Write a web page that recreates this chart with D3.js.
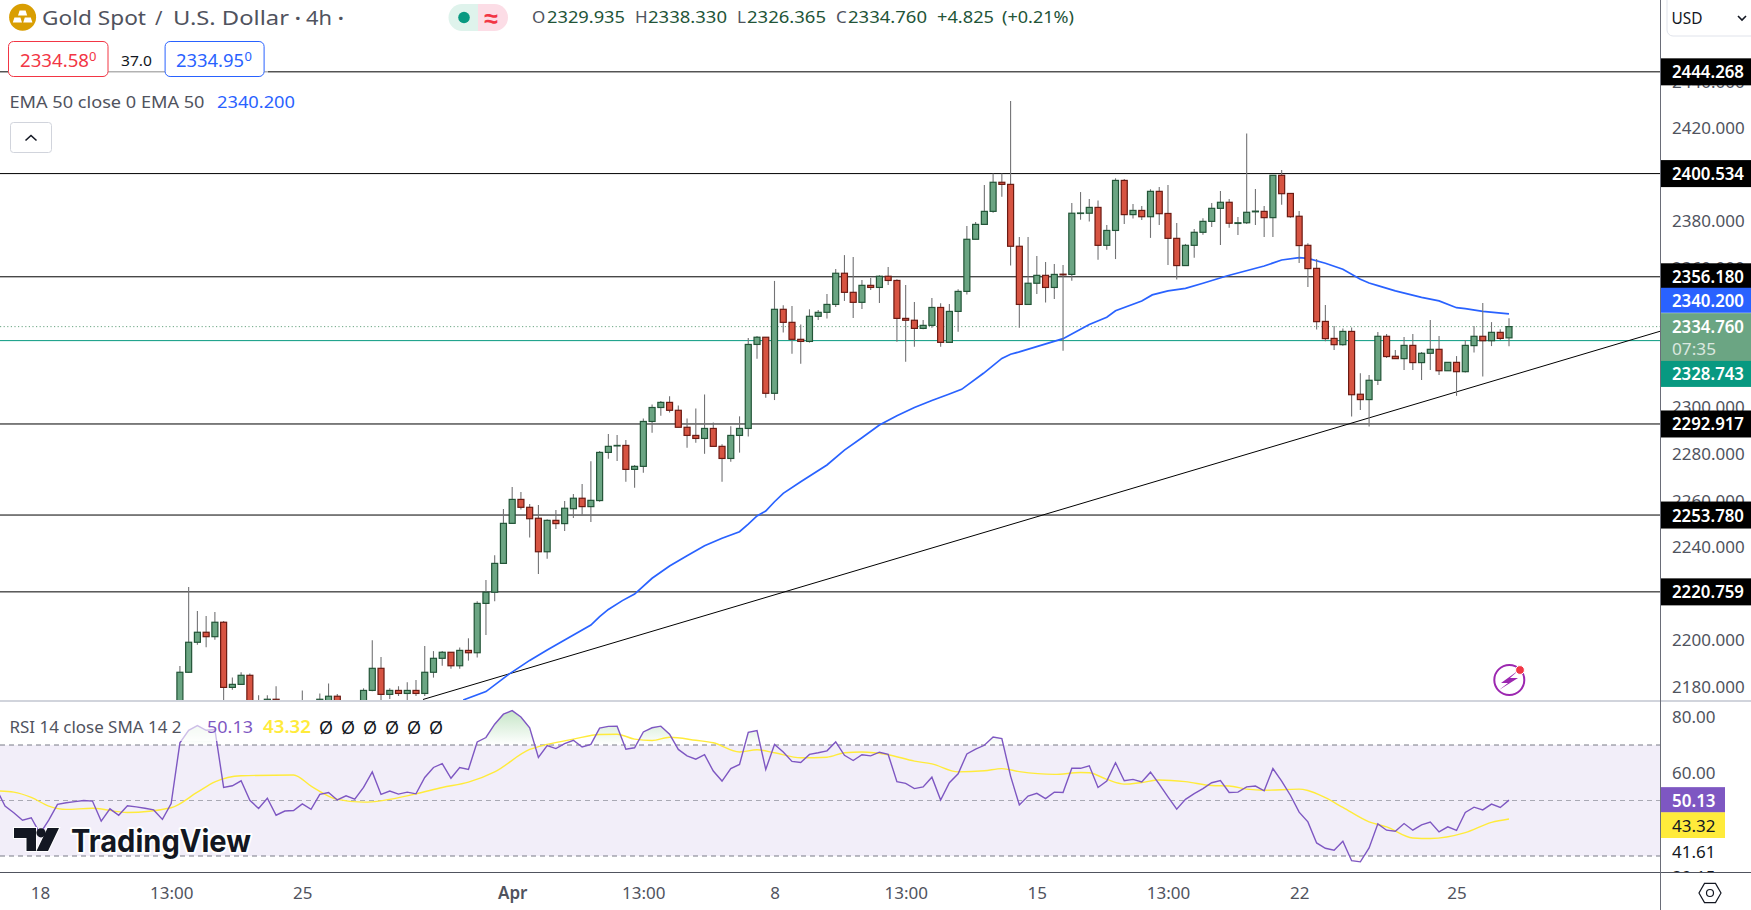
<!DOCTYPE html>
<html>
<head>
<meta charset="utf-8">
<script src="https://cdn.jsdelivr.net/npm/d3@7"></script>
<style>
  html, body { margin: 0; padding: 0; background: #fff; overflow: hidden; }
  text { font-family: "Noto Sans", sans-serif; }
</style>
</head>
<body>
<div id="chart-container"></div>
<script>
// candles, first one is bar 16 (18 March is bar 0), earlier ones sit below the pane
const firstBar = 16;
const opens = [2170,2186.2,2199.1,2203.4,2201.5,2207.7,2179.7,2181,2184.9,2170,2172,2174.6,2172,2170,2171,2170,2172,2172,2175.9,2170,2168,2170,
  2178.4,2187.9,2176.7,2178.4,2177.1,2178.4,2177.1,2186.2,2192.2,2194.8,2189,2195.6,2194.6,2215.8,2220.6,2233,2250.2,2260.5,2257.1,2252.4,2238,2251.5,2250.1,2256.5,2261,2257.4,
  2260,2280.7,2283.5,2283.7,2273.4,2274.7,2294,2300,2302.2,2298.8,2291.5,2288,2286.7,2291,2283.3,2278.1,2288,2291,2327.1,2330.2,2306.1,2342.2,2336.6,2329.3,2328.4,2339.2,2340.9,2344.3,
  2357.7,2349.5,2345.2,2352.5,2351.6,2356.4,2354.6,2338.3,2337.5,2334,2335.3,2343,2328,2341.3,2349.9,2372.3,2378.7,2384.3,2396.8,2395.9,2369.3,2344.3,2353.4,2356.8,2351.6,2357.3,2357.2,2383.4,2383.5,2386,2369.7,2376.1,
  2397.6,2382.9,2384.7,2382,2392.9,2383.4,2372.7,2361,2369.7,2375.3,2380,2385.6,2388.2,2379.1,2379.4,2384.1,2384.3,2381.6,2399.8,2392,2382.2,2369.7,2359.8,2337,2329.7,2327,2332.7,2305.7,2303.4,2311.7,
  2330.6,2322,2321,2326.7,2319.3,2323.3,2325,2315.8,2319.4,2315.4,2326.6,2330.6,2328.7,2332.3,2329.935];
const highs = [2188.9,2222.9,2212.5,2210.4,2212.1,2208.2,2184,2186.2,2185.7,2176.3,2176.3,2180.2,2173,2172,2178.4,2173,2177.1,2181.4,2176.9,2173,2172,2179.3,
  2200,2192.8,2179.3,2180.2,2181.9,2182.9,2197.5,2195.3,2195.3,2194.8,2196.9,2200.8,2216.7,2225.9,2236.5,2256.4,2265.8,2263.7,2258.5,2258.1,2252,2255.9,2259.8,2262.8,2267.1,2276.9,
  2281.3,2288.6,2288.2,2286,2275.3,2295.3,2301.3,2302.8,2304.8,2300.9,2295.3,2299.6,2305.6,2293.6,2284.2,2291.9,2296.2,2329.9,2330.7,2330.2,2354.4,2343.9,2343.6,2335.7,2342.2,2341.9,2348.8,2359.5,
  2365.5,2364.7,2354.8,2355.7,2356.8,2360.4,2355.1,2352.6,2345.3,2337.6,2347.1,2344.8,2344.5,2350.8,2378,2379.7,2395.6,2400.6,2400.6,2431.7,2373.3,2373.3,2365.1,2362.5,2361.7,2361.2,2387.9,2392.6,2389.6,2389,2378.4,2398.5,
  2398.2,2387.5,2386.6,2393.8,2394.8,2395.6,2379.3,2370.3,2376.7,2381.3,2387.9,2393,2389.6,2381.9,2417.8,2393.9,2386.6,2399.8,2402.1,2392,2384.5,2370.6,2363.8,2344.1,2335,2334,2334.4,2314.7,2314,2332.4,
  2331.6,2324.7,2330.3,2331.6,2323.9,2337.6,2330.7,2319.4,2322.1,2329,2335,2344.9,2336.7,2333.6,2338.33];
const lows = [2165,2186,2198,2197,2200.2,2172,2178.7,2180.7,2168,2165,2168,2169,2167,2166,2168,2166,2169,2168,2167,2166,2165,2168,
  2178,2172,2174.7,2176,2174,2176,2176,2183.9,2189,2187.7,2187.7,2191.2,2192.5,2202.2,2216.7,2233,2250,2256.2,2244.1,2228.4,2235,2247.8,2246.9,2252.5,2253.4,2250.8,
  2259.5,2278,2277,2268.1,2265.5,2272,2289.2,2296.5,2297.8,2291.5,2282.7,2284.9,2280.1,2283.3,2268.1,2276.7,2280.6,2287.5,2321,2304.2,2303.2,2332.2,2323.1,2318.8,2327.9,2337.6,2338.2,2343.2,
  2345.8,2338.5,2342.3,2350.5,2344.9,2352.6,2328.3,2319.7,2326.1,2333.6,2334.3,2326.1,2328,2332.6,2348.6,2372.3,2378.7,2383.7,2390.6,2361,2334.3,2344.3,2348.8,2345.1,2346.6,2324.4,2354.5,2380.7,2379.9,2363.5,2367.8,2363.8,
  2378.9,2381.2,2380.6,2372.9,2378.4,2361.2,2355,2361,2364.4,2374.2,2377.6,2369.8,2377.3,2374.1,2378.9,2378.4,2373.3,2373.3,2387.1,2381.6,2362.1,2351.8,2333.5,2328.5,2324.7,2326.5,2296.1,2298.9,2291.8,2309.7,
  2321.3,2321,2316.1,2316.1,2311.8,2316.1,2314,2315.8,2305,2315,2323.6,2313.3,2326.4,2329,2326.365];
const closes = [2186.2,2199.1,2203.4,2201.5,2207.7,2179.7,2181,2184.9,2172,2168,2174.6,2172,2170,2171,2170,2172,2174.6,2175.9,2170,2168,2170,2178.4,
  2187.9,2176.7,2178.4,2177.1,2178.4,2177.1,2186.2,2192.2,2194.8,2189,2195.6,2194.6,2215.8,2220.6,2233,2250.2,2260.5,2257.1,2252.2,2238,2251.5,2250.1,2256.7,2261,2257.4,2260.1,
  2280.7,2283.3,2283.7,2273.4,2274.7,2294,2300,2302.2,2298.8,2291.5,2288,2286.7,2291,2283.3,2278.1,2288,2291,2327.1,2330.2,2306.1,2342.2,2336.6,2329.3,2328.4,2339.2,2340.9,2344.3,2357.7,
  2349.5,2345.2,2352.5,2351.6,2356.4,2354.6,2338.3,2337.5,2334,2335.3,2343,2328,2341.3,2349.9,2372.3,2378.7,2384.3,2396.8,2395.9,2369.3,2344.3,2353.4,2356.8,2351.6,2357.2,2357,2383.5,2383.6,2386,2369.7,2376.1,2397.6,
  2382.9,2384.7,2382,2392.9,2383.3,2372.7,2361,2369.7,2375.3,2380,2385.6,2388.2,2379.2,2379.4,2383.9,2384.4,2381.6,2399.8,2391.9,2382,2369.6,2359.7,2336.9,2329.6,2327,2332.7,2305.5,2303.4,2311.7,2330.6,
  2321.9,2321,2326.7,2319.3,2323.3,2325,2315.8,2319.4,2315.4,2326.7,2330.6,2328.7,2332.3,2329.7,2334.76];

// EMA 50, read every couple of bars
const emaBars = [48.4,51,53.6,56,58,60,63,64,65,66.6,68,70,72,74,76,78,80,81,82,83,84,85,87,90,92,94,96,98,100,102,104,105.4,107.9,110,111,112,117,120,122,123,126,127.2,129,131,133,135.7,140,142,144,145,147,149,151,152,153,155,158,160,162,163,165,168];
const emaValues = [2174.3,2177.9,2185.3,2191.3,2195.8,2200.1,2206.5,2210.1,2213.2,2217,2219.8,2226.6,2231.9,2236.3,2240.6,2243.8,2246.6,2249.9,2253.4,2255.5,2259.5,2263.1,2268.1,2275.3,2281.7,2287,2292.5,2296.5,2300,2303,2305.8,2307.8,2314.7,2321.1,2322.9,2323.9,2329.6,2335.7,2338.8,2341.6,2345.8,2348.4,2350.1,2351.2,2353.4,2356.5,2360.8,2363.4,2364.4,2364.1,2362,2359.4,2355.1,2353.5,2352.4,2350.1,2347.3,2345.8,2342.9,2342.5,2341.3,2340.2];

// RSI, one value per bar, first one is bar -5
const rsiFirstBar = -5;
const rsiValues = [54.3,48,45.6,42.9,43.8,38.1,42.9,48.6,49.2,49.6,50,49.8,42.6,47,44.7,48.1,47.7,47.2,46.6,43.2,48.9,70.8,75.3,77,75.3,75.6,54.7,55.3,57.1,50.1,47.1,50.8,44.7,46.2,46.4,48.8,46.8,52.2,52.9,50.2,51.7,50.5,54.7,60.3,52.2,53.4,52.3,53,52.4,58.3,61.9,63.3,58,61.9,61.2,71.1,72.7,77.5,81.1,82.4,80.1,76.2,65.5,69.8,68.7,70.5,71.7,69.3,70.2,76.1,76.7,76.8,68.5,69,74.7,76.2,76.8,73.9,68.4,66.1,64.9,66.5,60.6,57,61.5,63,74.6,75.2,61.2,70.2,67.5,64.1,63.7,66.6,67.2,67.9,71.1,66.3,64.4,66.5,66.1,67.4,66.6,56.8,56.2,54.3,54.9,58.4,50.2,56.4,59.6,66.8,68.5,69.9,72.9,72.3,58.8,48.4,51.6,52.6,50.7,53,52.9,61.6,61.6,62.5,54.7,57,63.6,57.1,57.6,56.7,60.2,55.9,51.3,46.9,50.4,52.5,54.3,56.4,57.2,52.9,53,54.9,55.2,53.5,61.5,57,51.9,45.8,42.3,34.7,32.8,32.1,35.3,28.3,27.9,32.9,41.6,39.3,38.9,41.7,39.3,41.2,42.2,38.7,40.5,39.2,45.7,47.6,46.6,48.7,47.5,50.13];

// RSI based MA
const smaBars = [-5,-3,-1,1,3,6,10,15,18,20,23,29,31,34,37,43,46,49,52,56,58,61,64,66,68,70,72,75,77,80,82,84,87,90,92,94,97,100,102,105,108,110,112,116,119,120,122,124,126,128,131,134,136,138,140,144,145,147,149,152,154,157,159,163,166,168];
const smaValues = [53.5,53,51.1,48,46.8,47.2,45.7,47.4,53,56.7,58.9,59.2,55.2,50.4,49.4,52.4,54.7,56.6,60.3,68.4,70.2,72.1,73.8,73.9,72.1,71.6,72.8,71.7,70.8,67.5,68.3,67.2,65.4,65.6,67.2,67.5,66.5,64.2,63.2,60.3,60.7,61.5,60.4,59.4,60.1,60,57.6,55.9,56.5,57.4,56.8,55.4,55.2,54.1,53.7,54.1,53.6,51,47.5,42.3,40.5,36.5,36.3,38.4,42.1,43.32];

// horizontal drawings and price labels
const levels = [2444.268,2400.534,2356.18,2292.917,2253.78,2220.759];
const lastPrice = 2334.76, bidLine = 2328.743, emaLast = 2340.2;
const trendBars = [43.8,185.4], trendPrices = [2174.5,2332.9];

// 2400, 2340, 2320 and 2220 sit fully under the price labels
const priceTicks = [2180,2200,2240,2260,2280,2300,2360,2380,2420,2440];
const rsiTicks = [80,60];
const timeTicks = [0,15,30,54,69,84,99,114,129,144,162];
const timeLabels = ["18","13:00","25","Apr","13:00","8","13:00","15","13:00","22","25"];

const W = 1751, H = 910, axisX = 1660, paneBottom = 700, rsiTop = 702, rsiBottom = 872;

const x = d3.scaleLinear().domain([0,168]).range([40,1509]);
const y = d3.scaleLinear().domain([2180,2420]).range([686.7,128.3]);
const yRsi = d3.scaleLinear().domain([30,70]).range([856,745]);

const svg = d3.select("#chart-container").append("svg").attr("width",W).attr("height",H);
const defs = svg.append("defs");
defs.append("clipPath").attr("id","price-clip").append("rect").attr("width",axisX).attr("height",paneBottom);
defs.append("clipPath").attr("id","rsi-clip").append("rect").attr("y",rsiTop).attr("width",axisX).attr("height",rsiBottom-rsiTop);
defs.append("clipPath").attr("id","over-clip").append("rect").attr("y",rsiTop).attr("width",axisX).attr("height",yRsi(70)-rsiTop);
defs.append("clipPath").attr("id","under-clip").append("rect").attr("y",yRsi(30)).attr("width",axisX).attr("height",rsiBottom-yRsi(30));
defs.append("clipPath").attr("id","rsi-axis-clip").append("rect").attr("x",axisX).attr("y",rsiTop).attr("width",W-axisX).attr("height",rsiBottom-rsiTop);

const overGrad = defs.append("linearGradient").attr("id","over-grad").attr("gradientUnits","userSpaceOnUse").attr("x1",0).attr("x2",0).attr("y1",708).attr("y2",yRsi(70));
overGrad.append("stop").attr("offset",0).attr("stop-color","#4caf50").attr("stop-opacity",0.34);
overGrad.append("stop").attr("offset",1).attr("stop-color","#4caf50").attr("stop-opacity",0);
const underGrad = defs.append("linearGradient").attr("id","under-grad").attr("gradientUnits","userSpaceOnUse").attr("x1",0).attr("x2",0).attr("y1",yRsi(30)).attr("y2",872);
underGrad.append("stop").attr("offset",0).attr("stop-color","#ff5252").attr("stop-opacity",0);
underGrad.append("stop").attr("offset",1).attr("stop-color","#ff5252").attr("stop-opacity",0.2);

function label(g, px, py, str, o) {
  o = o || {};
  const t = g.append("text").attr("x",px).attr("y",py).text(str)
    .attr("dominant-baseline","central")
    .attr("font-size",o.size || 17)
    .attr("fill",o.color || "#50535e")
    .attr("text-anchor",o.anchor || "start");
  if (o.len) t.attr("textLength",o.len).attr("lengthAdjust","spacingAndGlyphs");
  if (o.weight) t.attr("font-weight",o.weight);
  return t;
}

// ---- price pane, candles go on top of the drawings
const price = svg.append("g").attr("clip-path","url(#price-clip)");

price.selectAll(".level").data(levels).enter().append("line")
  .attr("class","level")
  .attr("x1",0).attr("x2",axisX)
  .attr("y1",d => y(d)).attr("y2",d => y(d))
  .attr("stroke","#000").attr("stroke-width",1);

price.append("line").attr("x1",0).attr("x2",axisX).attr("y1",y(bidLine)).attr("y2",y(bidLine))
  .attr("stroke","#089981").attr("stroke-width",1);
price.append("line").attr("x1",0).attr("x2",axisX).attr("y1",y(lastPrice)).attr("y2",y(lastPrice))
  .attr("stroke","#6ba583").attr("stroke-width",1).attr("stroke-dasharray","1.2 2.4");

price.append("line")
  .attr("x1",x(trendBars[0])).attr("y1",y(trendPrices[0]))
  .attr("x2",x(trendBars[1])).attr("y2",y(trendPrices[1]))
  .attr("stroke","#000").attr("stroke-width",1);

price.append("path")
  .datum(emaBars.map((b,k) => [b,emaValues[k]]))
  .attr("fill","none").attr("stroke","#2962ff").attr("stroke-width",1.7)
  .attr("d",d3.line().x(d => x(d[0])).y(d => y(d[1])));

const bars = opens.map((o,k) => ({ i: firstBar + k, o: o, h: highs[k], l: lows[k], c: closes[k] }));

price.selectAll(".wick").data(bars).enter().append("line")
  .attr("class","wick")
  .attr("x1",d => x(d.i)).attr("x2",d => x(d.i))
  .attr("y1",d => y(d.h)).attr("y2",d => y(d.l))
  .attr("stroke","#737375").attr("stroke-width",1.1);

price.selectAll(".body").data(bars).enter().append("rect")
  .attr("class","body")
  .attr("x",d => x(d.i)-3)
  .attr("width",6)
  .attr("y",d => y(Math.max(d.o,d.c)))
  .attr("height",d => Math.max(Math.abs(y(d.o)-y(d.c)),0.5))
  .attr("fill",d => d.c >= d.o ? "#6ba583" : "#d75442")
  .attr("stroke",d => d.c >= d.o ? "#225437" : "#6b1a12")
  .attr("stroke-width",1.2);

// legend wash, the level line fades behind the quote boxes
svg.append("rect").attr("x",8).attr("y",38).attr("width",260).attr("height",40).attr("fill","#fff").attr("opacity",0.55);

// ---- rsi pane
const rsi = svg.append("g").attr("clip-path","url(#rsi-clip)");
rsi.append("rect").attr("x",0).attr("width",axisX).attr("y",yRsi(70)).attr("height",yRsi(30)-yRsi(70))
  .attr("fill","#7e57c2").attr("opacity",0.1);

const rsiPts = rsiValues.map((v,k) => [rsiFirstBar+k,v]);
[["over-clip","over-grad",70],["under-clip","under-grad",30]].forEach(s => {
  rsi.append("path").datum(rsiPts)
    .attr("clip-path","url(#"+s[0]+")")
    .attr("fill","url(#"+s[1]+")")
    .attr("d",d3.area().x(d => x(d[0])).y0(yRsi(s[2])).y1(d => yRsi(d[1])));
});

rsi.selectAll(".band").data([70,50,30]).enter().append("line")
  .attr("class","band")
  .attr("x1",0).attr("x2",axisX)
  .attr("y1",d => yRsi(d)).attr("y2",d => yRsi(d))
  .attr("stroke",d => d == 50 ? "rgba(120,123,134,0.6)" : "#787b86")
  .attr("stroke-width",1).attr("stroke-dasharray","5 4");

rsi.append("path").datum(smaBars.map((b,k) => [b,smaValues[k]]))
  .attr("fill","none").attr("stroke","#ffeb3b").attr("stroke-width",1.4)
  .attr("d",d3.line().curve(d3.curveMonotoneX).x(d => x(d[0])).y(d => yRsi(d[1])));
rsi.append("path").datum(rsiPts)
  .attr("fill","none").attr("stroke","#7e57c2").attr("stroke-width",1.4)
  .attr("d",d3.line().x(d => x(d[0])).y(d => yRsi(d[1])));

svg.append("rect").attr("x",8).attr("y",713).attr("width",442).attr("height",28).attr("fill","#fff").attr("opacity",0.62);

// ---- frame
const frame = svg.append("g");
frame.append("rect").attr("x",0).attr("y",paneBottom).attr("width",W).attr("height",2).attr("fill","#d1d4dc");
frame.append("line").attr("x1",0).attr("x2",W).attr("y1",872.5).attr("y2",872.5).attr("stroke","#50535e");
frame.append("line").attr("x1",axisX+0.5).attr("x2",axisX+0.5).attr("y1",0).attr("y2",H).attr("stroke","#6a6d78");

// ---- axes
const priceAxis = svg.append("g").attr("transform","translate(1672,0)")
  .call(d3.axisRight(y).tickValues(priceTicks).tickFormat(d3.format(".3f")).tickSize(0).tickPadding(0));
priceAxis.select(".domain").remove();
priceAxis.selectAll("text").attr("font-size",17).attr("fill","#50535e").style("font-family","'Noto Sans', sans-serif");

const rsiAxis = svg.append("g").attr("transform","translate(1672,0)")
  .call(d3.axisRight(yRsi).tickValues(rsiTicks).tickFormat(d3.format(".2f")).tickSize(0).tickPadding(0));
rsiAxis.select(".domain").remove();
rsiAxis.selectAll("text").attr("font-size",17).attr("fill","#50535e").style("font-family","'Noto Sans', sans-serif");

const timeAxis = svg.append("g").attr("transform","translate(0,887)")
  .call(d3.axisBottom(x).tickValues(timeTicks).tickFormat((d,k) => timeLabels[k]).tickSize(0).tickPadding(0));
timeAxis.select(".domain").remove();
timeAxis.selectAll("text").attr("font-size",17).attr("fill","#50535e").style("font-family","'Noto Sans', sans-serif")
  .attr("font-weight",(d,k) => timeLabels[k] == "Apr" ? 600 : 400);

// ---- price labels on the scale
const labels = svg.append("g");
levels.forEach(v => {
  labels.append("rect").attr("x",axisX+1).attr("y",y(v)-13.5).attr("width",W-axisX).attr("height",27).attr("fill","#000");
  label(labels,1672,y(v),d3.format(".3f")(v),{color:"#fff",weight:600,len:72});
});
const emaY = y(emaLast)-13.5, bidY = y(bidLine)+33;
labels.append("rect").attr("x",axisX+1).attr("y",emaY-12.7).attr("width",W-axisX).attr("height",25).attr("fill","#2962ff");
label(labels,1672,emaY,d3.format(".3f")(emaLast),{color:"#fff",weight:600,len:72});
labels.append("rect").attr("x",axisX+1).attr("y",y(lastPrice)-13.5).attr("width",W-axisX).attr("height",48).attr("fill","#6ba583");
label(labels,1672,y(lastPrice),d3.format(".3f")(lastPrice),{color:"#fff",weight:600,len:72});
label(labels,1672,y(lastPrice)+21.5,"07:35",{color:"#fff",size:17,len:44}).attr("opacity",0.75);
labels.append("rect").attr("x",axisX+1).attr("y",bidY-12.7).attr("width",W-axisX).attr("height",26).attr("fill","#089981");
label(labels,1672,bidY,d3.format(".3f")(bidLine),{color:"#fff",weight:600,len:72});

const rsiLast = rsiValues[rsiValues.length-1], smaLast = smaValues[smaValues.length-1];
labels.append("rect").attr("x",axisX+1).attr("y",yRsi(rsiLast)-13).attr("width",64).attr("height",25.5).attr("fill","#7e57c2");
label(labels,1672,yRsi(rsiLast),d3.format(".2f")(rsiLast),{color:"#fff",weight:600});
labels.append("rect").attr("x",axisX+1).attr("y",812.3).attr("width",64).attr("height",25.7).attr("fill","#ffeb3b");
label(labels,1672,825.5,d3.format(".2f")(smaLast),{color:"#131722"});
label(labels,1672,851.7,"41.61",{color:"#131722"});
label(labels,1672,876.5,"39.15",{color:"#131722"}).attr("clip-path","url(#rsi-axis-clip)");

// ---- header
const head = svg.append("g");
head.append("circle").attr("cx",22.6).attr("cy",17.3).attr("r",13.5).attr("fill","#d99e02");
[[22.6,10.5],[17.4,17.5],[27.8,17.5]].forEach(b => {
  head.append("path").attr("d","M"+(b[0]-3)+","+b[1]+"h6l1.6,5h-9.2z").attr("fill","#fff");
});
label(head,42,17,"Gold Spot",{size:20,len:104});
label(head,155,17,"/",{size:20});
label(head,173,17,"U.S. Dollar",{size:20,len:116});
label(head,295,17,"·",{size:20,weight:700});
label(head,306,17,"4h",{size:20,len:26});
label(head,338,17,"·",{size:20,weight:700});

head.append("path").attr("d","M478,4H462a13.5,13.5 0 0 0 0,27H478z").attr("fill","#dff3ec");
head.append("path").attr("d","M478,4H494.5a13.5,13.5 0 0 1 0,27H478z").attr("fill","#fcdde6");
head.append("circle").attr("cx",464).attr("cy",17.5).attr("r",5.8).attr("fill","#089981");
label(head,491,17,"≈",{size:25,color:"#f23645",anchor:"middle",weight:700});

const ohlc = [["O",532,"2329.935",547,78],["H",635,"2338.330",648,79],["L",737,"2326.365",747,79],["C",836,"2334.760",848,79]];
ohlc.forEach(q => {
  label(head,q[1],16.5,q[0],{size:17});
  label(head,q[3],16.5,q[2],{size:17,color:"#225437",len:q[4]});
});
label(head,937,16.5,"+4.825",{size:17,color:"#225437",len:57});
label(head,1002,16.5,"(+0.21%)",{size:17,color:"#225437",len:72});

[[8,99.5,"#f23645","2334.58",20,69,89],[164.6,99,"#2962ff","2334.95",176,68,244.5]].forEach(q => {
  head.append("rect").attr("x",q[0]+0.5).attr("y",41.5).attr("width",q[1]).attr("height",35).attr("rx",5)
    .attr("fill","#fff").attr("stroke",q[2]);
  label(head,q[4],59.5,q[3],{size:18,color:q[2],len:q[5]});
  label(head,q[6],56,"0",{size:13,color:q[2]});
});
label(head,121,59.5,"37.0",{size:15,color:"#131722",len:31});

label(head,9.5,101,"EMA 50 close 0 EMA 50",{size:17,len:195});
label(head,217,101,"2340.200",{size:17,color:"#2962ff",len:78});
head.append("rect").attr("x",10.5).attr("y",122.5).attr("width",41).attr("height",30).attr("rx",3).attr("fill","#fff").attr("stroke","#d1d4dc");
head.append("path").attr("d","M25.5,140.5l5.5,-5l5.5,5").attr("fill","none").attr("stroke","#131722").attr("stroke-width",1.6);

head.append("rect").attr("x",1667).attr("y",-6).attr("width",100).attr("height",42).attr("rx",6).attr("fill","#fff").attr("stroke","#e0e3eb");
label(head,1671.5,17.5,"USD",{size:17,color:"#131722",len:31});
head.append("path").attr("d","M1738,16l4,4l4,-4").attr("fill","none").attr("stroke","#131722").attr("stroke-width",1.6);

// rsi legend
label(head,9.5,726.5,"RSI 14 close SMA 14 2",{size:17,len:172});
label(head,207,726.5,d3.format(".2f")(rsiLast),{size:17,color:"#7e57c2",len:46});
label(head,263,726.5,d3.format(".2f")(smaLast),{size:17,color:"#ffeb3b",len:48,weight:600});
[326,348,370,392,414,436].forEach(px => label(head,px,726.5,"Ø",{size:18,color:"#131722",anchor:"middle"}));

// tradingview mark
const mark = svg.append("g");
const tvText = label(mark,71,840,"TradingView",{size:31,color:"#131722",weight:700,len:180}).style("font-family","Inter");
tvText.attr("stroke","#fff").attr("stroke-width",4).attr("paint-order","stroke").attr("stroke-linejoin","round");
mark.append("path")
  .attr("d","M14,828H36V851H26.5V838H14Z M47.5,828H59L48,851H36.5Z")
  .attr("fill","#131722").attr("stroke","#fff").attr("stroke-width",2).attr("paint-order","stroke");
mark.append("circle").attr("cx",41).attr("cy",832.8).attr("r",4.6).attr("fill","#131722");

// flash icon and settings
const icons = svg.append("g");
icons.append("circle").attr("cx",1509.3).attr("cy",680).attr("r",15).attr("fill","#fff").attr("stroke","#9c27b0").attr("stroke-width",2);
icons.append("path").attr("d","M1519,670L1501,683H1508L1499,690L1518,678H1510Z").attr("fill","#9c27b0");
icons.append("circle").attr("cx",1520).attr("cy",670).attr("r",4.4).attr("fill","#f23645").attr("stroke","#fff").attr("stroke-width",1);

const hex = d3.range(6).map(k => [1710+11*Math.cos(k*Math.PI/3),893+11*Math.sin(k*Math.PI/3)]);
icons.append("path").attr("d",d3.line()(hex)+"Z").attr("fill","none").attr("stroke","#131722").attr("stroke-width",1.2);
icons.append("circle").attr("cx",1710).attr("cy",893).attr("r",3.5).attr("fill","none").attr("stroke","#131722").attr("stroke-width",1.2);
</script>
</body>
</html>
